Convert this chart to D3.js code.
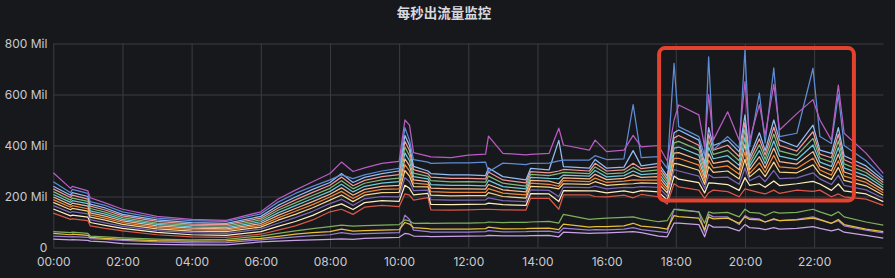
<!DOCTYPE html>
<html>
<head>
<meta charset="utf-8">
<script src="https://cdn.jsdelivr.net/npm/d3@7"></script>
<style>
  html, body { margin: 0; padding: 0; background: #17181b; }
  svg { display: block; font-family: Inter, "Noto Sans", "Noto Sans CJK SC", sans-serif; }
</style>
</head>
<body>
<div id="chart"></div>
<script>
const title = "每秒出流量监控";

const times = ["00:00","00:30","00:33","01:00","01:04","01:30","02:00","03:00","04:00","05:00",
  "06:00","06:30","07:00","07:30","08:00","08:20","08:40","09:00","09:30","10:00",
  "10:10","10:18","10:25","10:50","10:55","11:30","12:00","12:30","12:35","13:00","13:40",
  "13:48","14:20","14:37","14:45","15:30","15:40","16:00","16:30","16:46","17:00",
  "17:30","17:45","17:57","18:05","18:40","18:50","18:57","19:05","19:30","19:50",
  "20:00","20:08","20:25","20:35","20:50","21:00","21:30","21:58","22:10","22:30",
  "22:42","22:52","23:30","24:00"];

const xTicks = ["00:00","02:00","04:00","06:00","08:00","10:00","12:00","14:00","16:00","18:00","20:00","22:00"];
const yTicks = [0, 200, 400, 600, 800];

// values in Mil (millions per second)
const magenta = [293,232,240,222,195,175,150,122,110,106,140,190,225,258,290,335,298,312,330,338,500,480,372,358,355,352,362,366,437,369,363,365,369,468,402,382,421,376,382,440,395,400,340,500,559,520,395,600,421,532,421,650,421,560,440,640,461,525,580,500,421,637,448,370,291];
const blue = [258,215,228,212,180,165,140,115,105,102,132,178,212,240,265,285,270,285,300,310,470,420,345,335,330,332,332,335,297,331,325,330,331,340,343,343,360,345,348,560,352,356,310,722,474,435,360,748,382,435,390,775,395,605,410,704,435,448,703,435,408,600,400,340,275];
const bandTop = [240,205,215,200,170,155,130,108,98,95,122,165,198,228,255,290,255,275,290,300,440,400,318,300,290,285,285,282,312,278,265,310,304,420,317,311,345,311,315,380,320,330,280,450,461,421,330,470,400,421,375,520,356,450,380,500,421,395,480,382,369,470,360,320,265];
const pink = [230,196,205,190,162,147,124,102,92,90,115,155,187,216,244,276,242,263,278,286,417,380,305,290,276,271,271,269,296,265,253,298,293,300,306,300,330,300,304,330,309,317,269,430,439,401,316,444,382,401,357,491,343,426,363,472,400,378,454,366,352,444,344,307,255];
const green = [219,186,194,181,153,139,117,96,87,84,108,146,175,204,232,262,230,252,265,272,394,360,292,279,262,257,258,256,280,252,241,287,282,290,295,290,316,289,293,315,298,304,258,410,416,382,303,419,365,381,340,462,330,403,346,445,379,361,428,351,335,418,328,294,245];
const cyan = [208,177,184,172,144,131,110,91,81,78,101,136,164,192,220,248,218,240,252,258,371,340,278,269,247,244,244,242,263,239,230,275,271,270,284,280,302,277,282,300,286,291,247,390,394,362,289,394,348,360,322,433,317,380,329,418,358,344,402,335,318,392,312,281,235];
const peach = [198,167,174,162,136,123,104,85,76,73,94,126,153,180,209,234,205,228,240,244,348,320,265,258,233,230,230,229,247,226,218,263,260,250,273,269,287,266,271,285,275,278,236,370,372,343,275,368,330,340,305,404,304,356,312,390,337,327,376,319,301,366,296,268,225];
const orange = [188,158,164,152,128,115,98,79,70,68,87,116,142,168,198,220,192,216,228,230,325,300,252,248,219,216,216,216,231,213,206,252,248,240,262,258,272,255,260,265,264,264,225,350,350,323,262,342,312,320,287,375,290,332,295,362,316,310,350,304,284,340,280,255,215];
const paleYellow = [177,148,153,143,119,107,91,73,64,62,80,107,130,156,186,206,180,205,215,216,302,280,239,238,205,202,203,203,215,200,194,240,237,230,250,248,258,244,249,250,253,251,214,330,327,303,248,317,295,300,269,346,277,309,278,335,296,293,324,288,267,314,263,242,205];
const violet = [164,137,141,132,109,97,83,66,58,55,72,95,117,142,172,189,165,191,200,199,274,258,223,225,188,186,186,187,195,184,180,226,224,200,237,235,241,230,236,235,239,236,201,306,300,280,231,286,274,276,248,311,262,281,258,302,270,273,293,269,247,283,244,226,193];
const cream = [151,124,127,119,98,87,75,59,50,48,62,83,102,126,157,171,149,176,184,181,244,232,206,212,169,168,169,170,174,168,165,211,210,180,223,222,222,214,222,215,223,218,186,280,268,254,214,253,252,247,224,274,244,250,236,261,243,250,259,249,224,249,222,210,180];
const bandBottom = [135,110,112,105,85,75,65,50,42,40,52,68,85,108,140,150,130,158,165,160,210,205,186,196,148,147,148,150,150,148,147,193,193,150,206,206,200,199,205,195,208,199,170,250,238,225,193,215,225,219,199,230,225,215,210,225,212,225,220,225,199,210,199,190,165];
const lowGreen = [62,58,60,55,45,42,38,33,30,32,45,55,65,74,82,88,84,86,88,90,108,104,95,96,95,96,96,98,100,98,99,100,102,96,130,110,112,115,118,120,112,101,105,150,147,140,95,140,135,138,120,150,138,135,125,140,135,138,150,140,125,140,120,100,88];
const lowYellow = [55,50,52,48,40,36,32,27,25,26,36,44,52,58,62,72,64,66,68,70,98,92,78,74,72,72,72,74,80,73,74,75,76,70,92,80,82,82,85,95,84,78,72,125,121,115,70,120,112,115,95,120,110,108,100,112,105,108,115,108,95,110,90,72,62];
const lowPurple = [45,42,43,40,35,32,28,22,18,19,30,36,42,47,50,58,52,54,56,58,127,110,68,62,60,60,60,62,66,61,62,63,64,58,76,68,70,69,72,78,70,62,58,150,150,140,60,130,120,120,90,125,115,112,100,110,105,110,120,110,95,105,85,68,57];
const lowLavender = [33,30,31,28,25,22,15,12,10,10,22,25,28,30,32,34,32,36,38,40,55,52,45,44,43,44,45,46,48,46,46,47,48,42,60,55,56,57,60,62,58,45,42,96,96,90,42,90,80,80,65,90,78,75,70,78,72,75,82,75,65,72,60,48,37];

// highlighted window (time range and value range, Mil)
const highlight = { from: "17:31", to: "23:09", top: 782, bottom: 184 };

// drawing order: bottom first
const series = [
  { values: lowLavender, color: "#c9a3e6" },
  { values: lowPurple, color: "#9d7fd8" },
  { values: lowYellow, color: "#e8c03c" },
  { values: lowGreen, color: "#7faf5c" },
  { values: bandBottom, color: "#d9584a" },
  { values: cream, color: "#fbefbf" },
  { values: violet, color: "#7b67b5" },
  { values: paleYellow, color: "#f2d48c" },
  { values: orange, color: "#ef8a3c" },
  { values: peach, color: "#f6b893" },
  { values: cyan, color: "#6fc9da" },
  { values: green, color: "#86b873" },
  { values: pink, color: "#f0979a" },
  { values: bandTop, color: "#93bdf5" },
  { values: blue, color: "#5f8cd6" },
  { values: magenta, color: "#b85cc4" },
];

const width = 895, height = 278;
const margin = { top: 43.5, right: 11.7, bottom: 30.5, left: 53.3 };
const hours = (t) => { const [h, m] = t.split(":").map(Number); return h + m / 60; };

const x = d3.scaleLinear().domain([0, 24]).range([margin.left, width - margin.right]);
const y = d3.scaleLinear().domain([0, 800]).range([height - margin.bottom, margin.top]);

const svg = d3.select("#chart").append("svg")
  .attr("width", width)
  .attr("height", height)
  .attr("viewBox", [0, 0, width, height]);

svg.append("rect").attr("width", width).attr("height", height).attr("fill", "#17181b");

svg.append("text")
  .attr("x", 444)
  .attr("y", 17.5)
  .attr("text-anchor", "middle")
  .style("font-family", '"Noto Sans CJK SC", sans-serif')
  .style("font-size", "13.5px")
  .style("font-weight", 700)
  .style("fill", "#d8d9de")
  .text(title);

// y axis + horizontal grid
const yAxis = svg.append("g")
  .attr("transform", `translate(${margin.left},0)`)
  .call(d3.axisLeft(y)
    .tickValues(yTicks)
    .tickSize(-(width - margin.left - margin.right))
    .tickPadding(6)
    .tickFormat((d) => (d === 0 ? "0" : `${d} Mil`)));

// x axis + vertical grid
const xAxis = svg.append("g")
  .attr("transform", `translate(0,${height - margin.bottom})`)
  .call(d3.axisBottom(x)
    .tickValues(xTicks.map(hours))
    .tickSize(-(height - margin.top - margin.bottom))
    .tickPadding(10)
    .tickFormat((d, i) => xTicks[i]));

for (const g of [yAxis, xAxis]) {
  g.select(".domain").remove();
  g.selectAll(".tick line").attr("stroke", "#3b3c41").attr("stroke-width", 1);
  g.selectAll(".tick text")
    .attr("fill", "#c9cad1")
    .style("font-size", "12px")
    .style("font-family", "Inter, 'Noto Sans', sans-serif");
}

const line = d3.line()
  .x((d, i) => x(hours(times[i])))
  .y((d) => y(d));

svg.append("g")
  .attr("fill", "none")
  .attr("stroke-width", 1.25)
  .attr("stroke-linejoin", "round")
  .selectAll("path")
  .data(series)
  .join("path")
  .attr("stroke", (d) => d.color)
  .attr("d", (d) => line(d.values));

svg.append("rect")
  .attr("x", x(hours(highlight.from)))
  .attr("y", y(highlight.top))
  .attr("width", x(hours(highlight.to)) - x(hours(highlight.from)))
  .attr("height", y(highlight.bottom) - y(highlight.top))
  .attr("rx", 6)
  .attr("fill", "none")
  .attr("stroke", "#e2432f")
  .attr("stroke-width", 4);
</script>
</body>
</html>
